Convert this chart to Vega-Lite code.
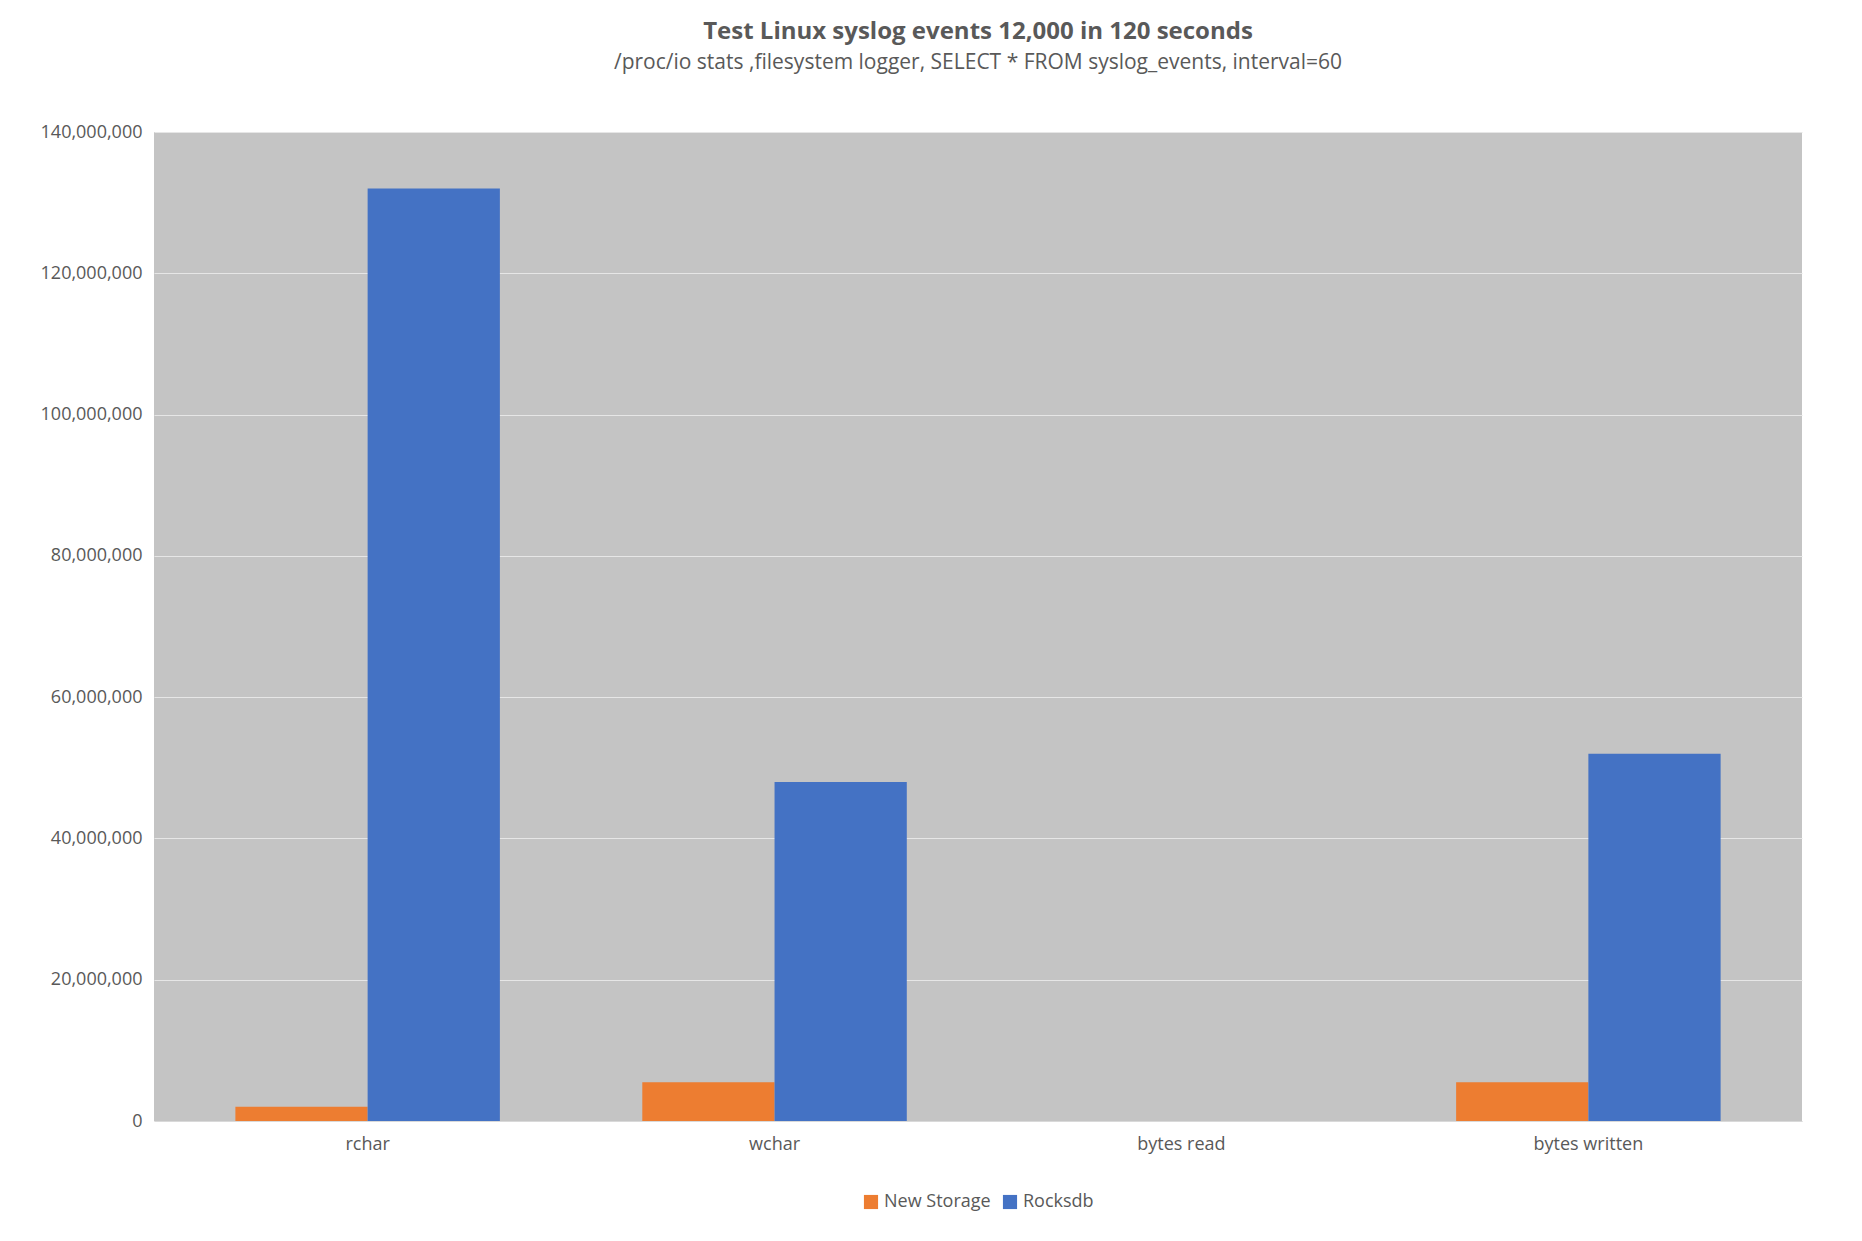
{
  "$schema": "https://vega.github.io/schema/vega-lite/v6.json",
  "autosize": {"type": "fit", "contains": "padding"},
  "width": 1862,
  "height": 1241,
  "padding": {"left": 40, "right": 60, "top": 20, "bottom": 30},
  "background": "white",
  "title": {
    "text": "Test Linux syslog events 12,000 in 120 seconds",
    "subtitle": "/proc/io stats ,filesystem logger, SELECT * FROM syslog_events, interval=60",
    "font": "Open Sans",
    "fontSize": 24,
    "fontWeight": "bold",
    "color": "#595959",
    "subtitleFont": "Open Sans",
    "subtitleFontSize": 21,
    "subtitleColor": "#595959",
    "subtitlePadding": 8,
    "offset": 50
  },
  "data": {
    "values": [
      {"metric": "rchar", "series": "New Storage", "value": 2000000},
      {"metric": "rchar", "series": "Rocksdb", "value": 132000000},
      {"metric": "wchar", "series": "New Storage", "value": 5500000},
      {"metric": "wchar", "series": "Rocksdb", "value": 48000000},
      {"metric": "bytes read", "series": "New Storage", "value": 0},
      {"metric": "bytes read", "series": "Rocksdb", "value": 0},
      {"metric": "bytes written", "series": "New Storage", "value": 5500000},
      {"metric": "bytes written", "series": "Rocksdb", "value": 52000000}
    ]
  },
  "config": {
    "font": "Open Sans",
    "view": {"stroke": null, "fill": "#c4c4c4"},
    "axis": {"labelColor": "#595959", "labelFontSize": 18, "titleColor": "#595959"},
    "legend": {"layout": {"bottom": {"anchor": "middle"}}}
  },
  "mark": {"type": "bar"},
  "encoding": {
    "x": {
      "field": "metric",
      "type": "nominal",
      "sort": ["rchar", "wchar", "bytes read", "bytes written"],
      "title": null,
      "scale": {"paddingInner": 0.35, "paddingOuter": 0.2},
      "axis": {"labelAngle": 0, "domainColor": "#d9d9d9", "ticks": false, "labelPadding": 14}
    },
    "xOffset": {"field": "series", "sort": ["New Storage", "Rocksdb"]},
    "y": {
      "field": "value",
      "type": "quantitative",
      "title": null,
      "scale": {"domain": [0, 140000000]},
      "axis": {"format": ",.0f", "formatType": "number", "tickCount": 7, "labelOverlap": false, "gridColor": "#e6e6e6", "domain": false, "ticks": false, "labelPadding": 12}
    },
    "color": {
      "field": "series",
      "type": "nominal",
      "title": null,
      "scale": {"domain": ["New Storage", "Rocksdb"], "range": ["#ED7D31", "#4472C4"]},
      "legend": {"orient": "bottom", "direction": "horizontal", "labelFontSize": 18, "labelColor": "#595959", "symbolType": "square", "symbolSize": 200, "offset": 40}
    }
  }
}
